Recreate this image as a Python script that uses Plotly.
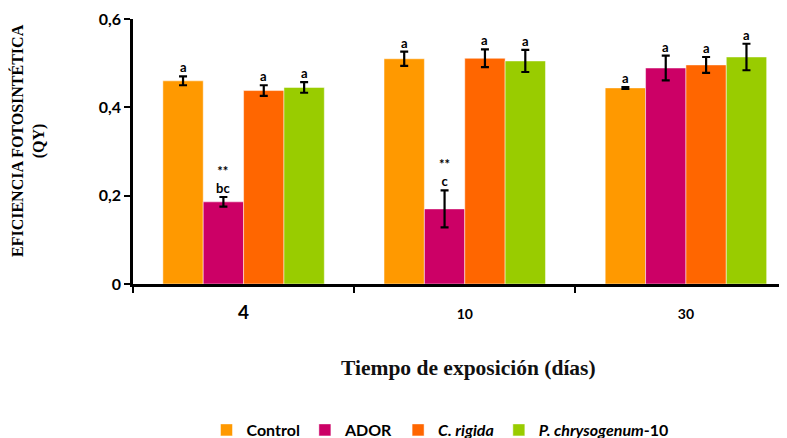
import plotly.graph_objects as go

categories = ["4", "10", "30"]
tick_labels = ["4", "10", "30"]
series_names = ["Control", "ADOR", "C. rigida", "P. chrysogenum-10"]
legend_labels = ["<b>Control</b>", "<b>ADOR</b>", "<b><i>C. rigida</i></b>", "<b><i>P. chrysogenum</i>-10</b>"]
control = [0.460, 0.510, 0.444]
ador = [0.186, 0.170, 0.489]
c_rigida = [0.438, 0.511, 0.496]
p_chrys = [0.445, 0.505, 0.514]
control_err = [0.010, 0.016, 0.002]
ador_err = [0.011, 0.042, 0.028]
c_rigida_err = [0.012, 0.020, 0.018]
p_chrys_err = [0.012, 0.025, 0.030]
control_sig = ["a", "a", "a"]
ador_sig = ["**<br>bc", "**<br>c", "a"]
c_rigida_sig = ["a", "a", "a"]
p_chrys_sig = ["a", "a", "a"]
y_tick_vals = [0, 0.2, 0.4, 0.6]
y_tick_text = ["0", "0,2", "0,4", "0,6"]

colors = ["#FF9900", "#CC0066", "#FF6600", "#99CC00"]
values = [control, ador, c_rigida, p_chrys]
errors = [control_err, ador_err, c_rigida_err, p_chrys_err]
sigs = [control_sig, ador_sig, c_rigida_sig, p_chrys_sig]

# page body has an 8px margin; figure coordinates are offset by that
OFF = 8
W, H = 787 - OFF, 438 - OFF
PL, PT, PB = 133, 19, 284            # plot edges in screen pixels
PW, PH = 787 - PL, PB - PT


def px(X):
    return (X - PL) / PW


def py(Y):
    return (PB - Y) / PH


BARGAP = 0.27
fig = go.Figure()
for name, lab, vals, errs, col in zip(series_names, legend_labels, values, errors, colors):
    fig.add_trace(go.Bar(
        x=categories, y=vals, name=lab,
        marker=dict(color=col, line=dict(color="rgba(255,255,255,0.6)", width=0.8)),
        error_y=dict(type="data", array=errs, visible=True, color="black", thickness=2.2, width=4),
    ))

n = len(series_names)
bw = (1 - BARGAP) / n
for j in range(n):
    for i in range(len(categories)):
        xc = i - (1 - BARGAP) / 2 + bw * (j + 0.5)
        fig.add_annotation(
            x=xc, y=values[j][i] + errors[j][i], xref="x", yref="y",
            text="<b>" + sigs[j][i] + "</b>", showarrow=False,
            yanchor="bottom", yshift=-1,
            font=dict(family="Lato", size=13, color="black"),
        )

# Y axis title
fig.add_annotation(
    x=px(28), y=py(141), xref="paper", yref="paper",
    xanchor="center", yanchor="middle",
    text="<b>EFICIENCIA FOTOSINTÉTICA</b><br><b>(QY)</b>",
    textangle=-90, showarrow=False,
    font=dict(family="Liberation Serif", size=16, color="black"),
)
# X axis title
fig.add_annotation(
    x=px(468), y=py(368), xref="paper", yref="paper",
    text="<b>Tiempo de exposición (días)</b>",
    showarrow=False, xanchor="center", yanchor="middle",
    font=dict(family="Liberation Serif", size=21.5, color="#111111"),
)

fig.update_layout(
    width=W, height=H,
    margin=dict(l=PL - OFF, r=0, t=PT - OFF, b=H - (PB - OFF), autoexpand=False),
    paper_bgcolor="white", plot_bgcolor="white",
    barmode="group", bargap=BARGAP, bargroupgap=0,
    showlegend=True,
    legend=dict(orientation="h", xref="container", yref="container",
                x=(440 - OFF) / W, xanchor="center", y=1 - (430 - OFF) / H, yanchor="middle",
                font=dict(family="Lato", size=16, color="black"),
                itemwidth=30, tracegroupgap=0),
    xaxis=dict(
        type="category", range=[-0.5, 2.457], automargin=False,
        tickvals=categories,
        ticktext=["<b><span style='font-size:19px'>" + tick_labels[0] + "</span></b>",
                  "<b>" + tick_labels[1] + "</b>", "<b>" + tick_labels[2] + "</b>"],
        tickson="boundaries", ticks="outside", ticklen=6, tickwidth=2, tickcolor="black",
        ticklabelstandoff=15,
        showline=True, linecolor="black", linewidth=2.5,
        showgrid=False, zeroline=False,
        tickfont=dict(family="Lato", size=14, color="black"),
    ),
    yaxis=dict(
        range=[0, 0.6], tickvals=y_tick_vals, ticktext=["<b>" + t + "</b>" for t in y_tick_text],
        ticks="outside", ticklen=6, tickwidth=2, tickcolor="black", automargin=False,
        showline=True, linecolor="black", linewidth=2.5,
        showgrid=False, zeroline=False,
        tickfont=dict(family="Lato", size=16, color="black"),
    ),
)

fig.write_html("out.html")
